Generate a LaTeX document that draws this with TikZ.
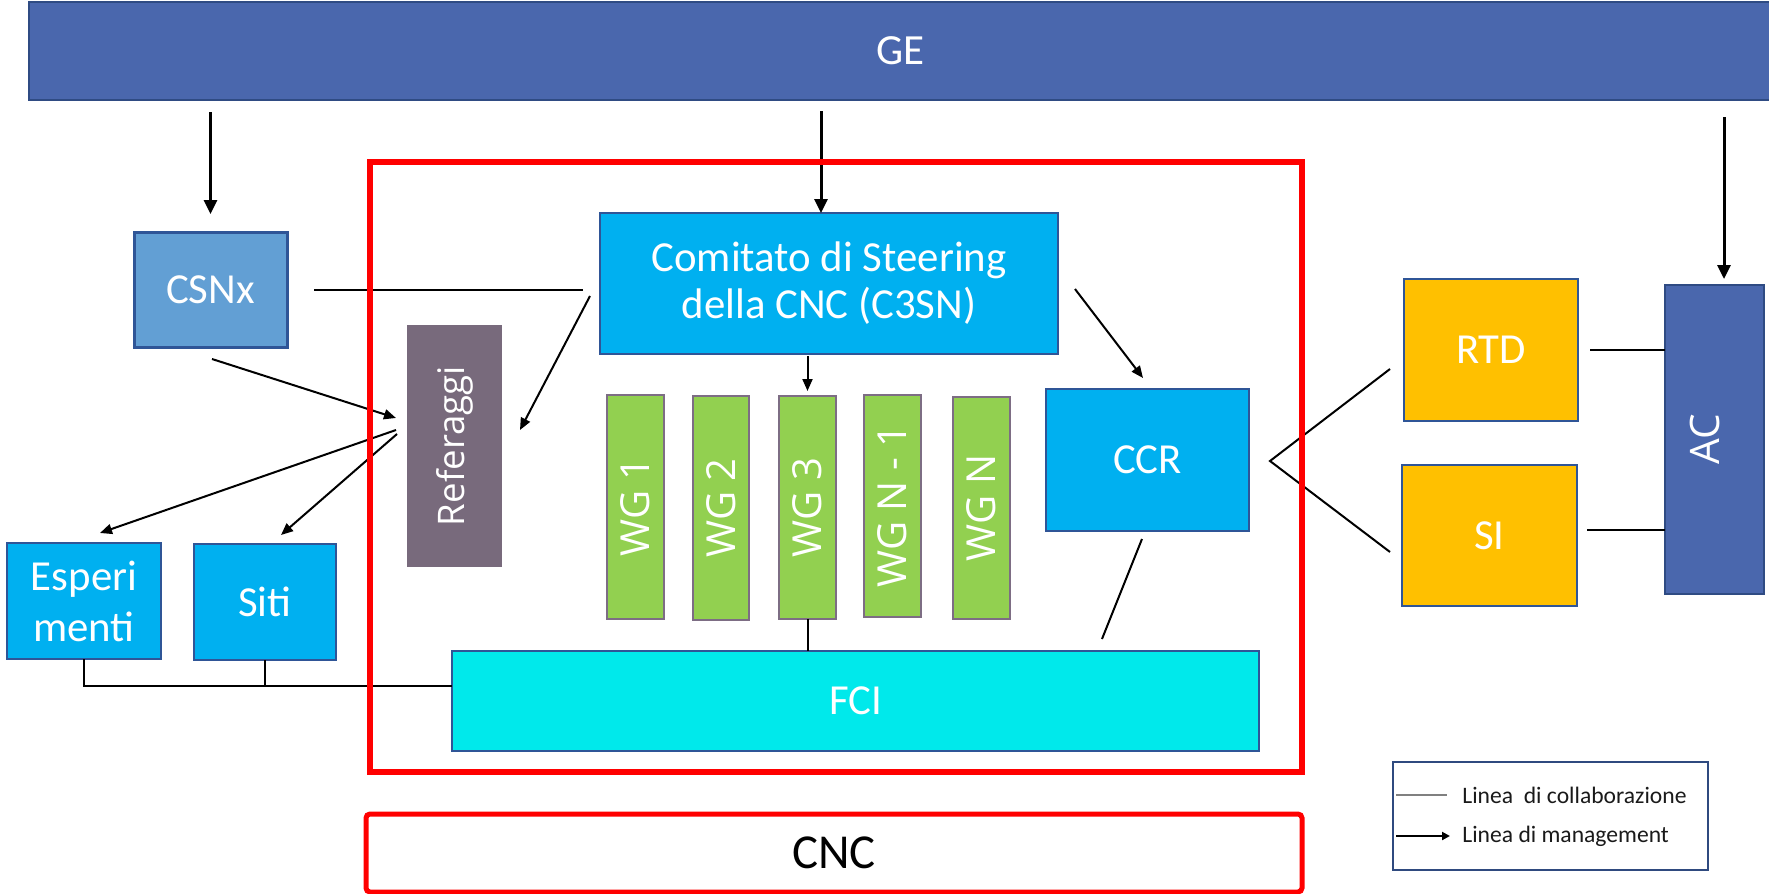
\documentclass[tikz,border=0pt]{standalone}
\usepackage{fontspec}
\setmainfont{Carlito}
\newfontfamily\osans{Open Sans}
\usetikzlibrary{arrows.meta}
\definecolor{geblue}{HTML}{4A67AD}
\definecolor{gedark}{HTML}{2F4B83}
\definecolor{csnblue}{HTML}{629FD4}
\definecolor{darkblue}{HTML}{2F5597}
\definecolor{cyanblue}{HTML}{00B0F0}
\definecolor{refgrey}{HTML}{786A7C}
\definecolor{wggreen}{HTML}{92D050}
\definecolor{wgborder}{HTML}{7D6D84}
\definecolor{fcicyan}{HTML}{00E9EB}
\definecolor{gold}{HTML}{FFC000}
\definecolor{legblue}{HTML}{2F4A7F}
\definecolor{legtext}{HTML}{1A1A1A}
\begin{document}
\begin{tikzpicture}[x=0.5pt,y=-0.5pt,
  sz/.style 2 args={minimum width=#1, minimum height=#2},
  blk/.style={rectangle, inner sep=0pt, outer sep=0pt, text=white, font=\fontsize{21.4}{25}\selectfont, align=center},
  rot/.style={rectangle, inner sep=0pt, outer sep=0pt, text=white},
  wg/.style={rot, fill=wggreen, draw=wgborder, line width=1.2pt, font=\osans\fontsize{20}{24}\selectfont},
  mgmt/.style={line width=1pt, -{Triangle[length=6pt,width=5pt]}},
  mgmtbig/.style={line width=1.5pt, -{Triangle[length=7pt,width=6.5pt]}},
  collab/.style={line width=1pt}]
\useasboundingbox (0,0) rectangle (1769,894);

% boxes
\node[blk, fill=geblue, draw=gedark, line width=1pt, font=\fontsize{21.5}{25}\selectfont, sz={871.5pt}{49pt}] (ge) at (900.5,51) {GE};
\node[blk, fill=csnblue, draw=darkblue, line width=1.5pt, sz={76.5pt}{57.5pt}] (csnx) at (210.5,289.5) {CSNx};
\node[blk, fill=cyanblue, draw=darkblue, line width=1.25pt, font=\fontsize{21.4}{23.5}\selectfont, sz={229pt}{70.5pt}] (c3sn) at (829,283.5) {Comitato di Steering\\della CNC (C3SN)};
\node[rot, fill=refgrey, font=\osans\fontsize{18.3}{22}\selectfont, sz={47.5pt}{121pt}] (ref) at (454.5,446) {\rotatebox{90}{Referaggi}};
\node[wg, sz={28.5pt}{112pt}] (wg1) at (635.5,507) {\rotatebox{90}{WG 1}};
\node[wg, sz={28pt}{112pt}] (wg2) at (721,508) {\rotatebox{90}{WG 2}};
\node[wg, sz={28.5pt}{111.5pt}] (wg3) at (807.5,507.5) {\rotatebox{90}{WG 3}};
\node[wg, sz={28.5pt}{111pt}] (wgn1) at (892.5,506) {\rotatebox{90}{WG N - 1}};
\node[wg, sz={28.5pt}{111pt}] (wgn) at (981.5,508) {\rotatebox{90}{WG N}};
\node[blk, fill=cyanblue, draw=darkblue, line width=1.25pt, sz={101.5pt}{71pt}] (ccr) at (1147.5,460) {CCR};
\node[blk, fill=fcicyan, draw=darkblue, line width=1pt, sz={403.5pt}{50pt}] (fci) at (855.5,701) {FCI};
\node[blk, fill=cyanblue, draw=darkblue, line width=1.25pt, font=\fontsize{21.4}{25.5}\selectfont, sz={77pt}{58pt}] (esp) at (84,601) {Esperi\\menti};
\node[blk, fill=cyanblue, draw=darkblue, line width=1.25pt, sz={71pt}{58pt}] (siti) at (265,602) {Siti};
\node[blk, fill=gold, draw=darkblue, line width=1pt, sz={87pt}{71pt}] (rtd) at (1491,350) {RTD};
\node[blk, fill=gold, draw=darkblue, line width=1pt, sz={87.5pt}{70.5pt}] (si) at (1489.5,535.5) {SI};
\node[rot, fill=geblue, draw=gedark, line width=1.25pt, font=\osans\fontsize{20.3}{24}\selectfont, sz={49.5pt}{154.5pt}] (ac) at (1714.5,439.5) {\rotatebox{90}{AC\rule[-10pt]{0pt}{0pt}}};

% free connector ends
\coordinate (c3snIn) at (821,213);
\coordinate (acIn) at (1724,285);
\coordinate (p1) at (590,296);
\coordinate (p2) at (520,430);
\coordinate (p3) at (212,359);
\coordinate (p4) at (396,418);
\coordinate (p5) at (396,430);
\coordinate (p6) at (100,533);
\coordinate (p7) at (397,434);
\coordinate (p8) at (281,535);
\coordinate (p11) at (1075,289);
\coordinate (p12) at (1143,378);
\coordinate (p13) at (1142,539);
\coordinate (p14) at (1102,639);
\coordinate (busy) at (452,686);
\coordinate (ccrV) at (1270,461);
\coordinate (rtdE) at (1390,369);
\coordinate (siE) at (1390,552);
\coordinate (siA) at (1587,530);

% management lines
\draw[mgmtbig, shorten <=6pt, shorten >=9pt] (ge.south -| csnx.north) -- (csnx.north);
\draw[mgmtbig, shorten <=5.5pt] (ge.south -| c3snIn) -- (c3snIn);
\draw[mgmtbig, shorten <=8.5pt, shorten >=3pt] (ge.south -| acIn) -- (acIn);
\draw[mgmt] (p1) -- (p2);
\draw[mgmt] (p3) -- (p4);
\draw[mgmt] (p5) -- (p6);
\draw[mgmt] (p7) -- (p8);
\draw[mgmt, shorten <=1pt, shorten >=2.5pt] (wg3.north |- c3sn.south) -- (wg3.north);
\draw[mgmt] (p11) -- (p12);

% collaboration lines
\draw[collab, shorten <=13.5pt, shorten >=8.5pt] (csnx.east) -- (c3sn.west |- csnx.east);
\draw[collab] (wg3.south) -- (wg3.south |- fci.north);
\draw[collab] (p13) -- (p14);
\draw[collab] (esp.south) |- (busy);
\draw[collab] (siti.south) -- (siti.south |- busy);
\draw[collab] (rtdE) -- (ccrV) -- (siE);
\draw[collab, shorten <=6pt] (rtd.east) -- (rtd.east -| ac.west);
\draw[collab] (siA) -- (ac.west |- siA);

% red frames
\node[draw=red, line width=3pt, inner sep=0pt, sz={466pt}{305pt}] (frame) at (836,467) {};
\node[draw=red, line width=2.5pt, rounded corners=2pt, inner sep=0pt, font=\fontsize{24.4}{28}\selectfont, sz={468pt}{39pt}] (cnc) at (834,853) {CNC};

% legend
\node[draw=legblue, line width=1.2pt, fill=white, inner sep=0pt, sz={157.5pt}{54pt}] (leg) at (1550.5,816) {};
\coordinate (l1a) at (1396,795);
\coordinate (l1b) at (1447,795);
\coordinate (l2a) at (1396,836);
\coordinate (l2b) at (1450,836);
\draw[gray, line width=1pt] (l1a) -- (l1b);
\draw[line width=1pt, -{Triangle[length=4pt,width=4pt]}] (l2a) -- (l2b);
\node[anchor=west, inner sep=0pt, text=legtext, font=\fontsize{11.8}{14}\selectfont] (lt1) at (1462,795) {Linea\ \ di collaborazione};
\node[anchor=west, inner sep=0pt, text=legtext, font=\fontsize{11.8}{14}\selectfont] (lt2) at (1462,836) {Linea di management};
\end{tikzpicture}
\end{document}
